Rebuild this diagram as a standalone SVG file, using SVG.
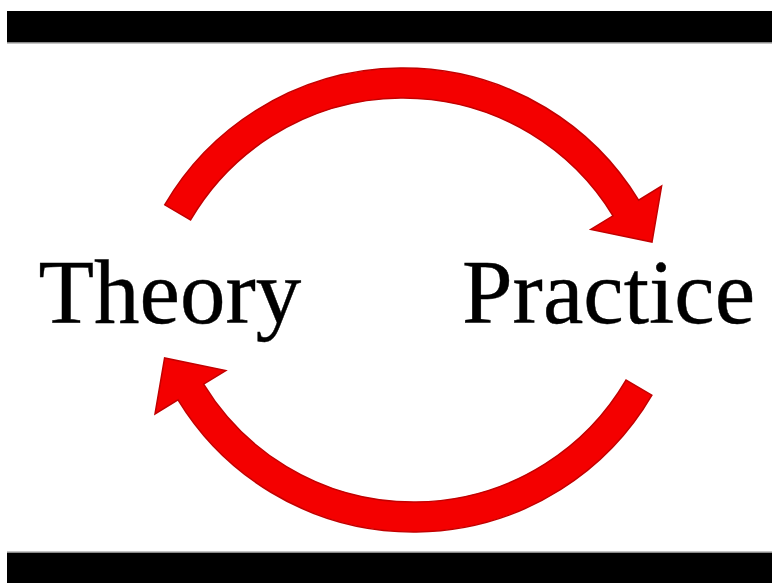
<svg xmlns="http://www.w3.org/2000/svg" width="772" height="583" viewBox="0 0 772 583">
  <style>
    .bar { fill: #000; }
    .barEdge { fill: #8a8a8a; }
    .label { font-family: "Liberation Serif", "Times New Roman", serif; font-size: 91px; fill: #000; stroke: #000; stroke-width: 0.4; }
    .arrow { fill: #f40000; stroke: #c20000; stroke-width: 1.5; stroke-linejoin: miter; }
  </style>
  <defs>
    <path id="curvedArrow" d="M164.7,204.8 A276,276 0 0 1 638.6,200.2 L661.6,186.1 L652,242 L590.8,229.4 L613,215.8 A246,246 0 0 0 190.6,219.9 Z"/>
  </defs>
  <rect width="772" height="583" fill="#fff"/>
  <rect class="bar" x="7" y="11" width="765" height="31"/>
  <rect class="barEdge" x="7" y="42" width="765" height="1.5"/>
  <rect class="barEdge" x="7" y="551.5" width="765" height="1.5"/>
  <rect class="bar" x="7" y="553" width="765" height="30"/>
  <g id="connectors">
    <use href="#curvedArrow" class="arrow" id="theory-to-practice"/>
    <use href="#curvedArrow" class="arrow" id="practice-to-theory" transform="rotate(180 408.3 300)"/>
  </g>
  <g id="theory">
    <text class="label" x="38.5" y="323">Theory</text>
  </g>
  <g id="practice">
    <text class="label" x="462" y="323">Practice</text>
  </g>
</svg>
